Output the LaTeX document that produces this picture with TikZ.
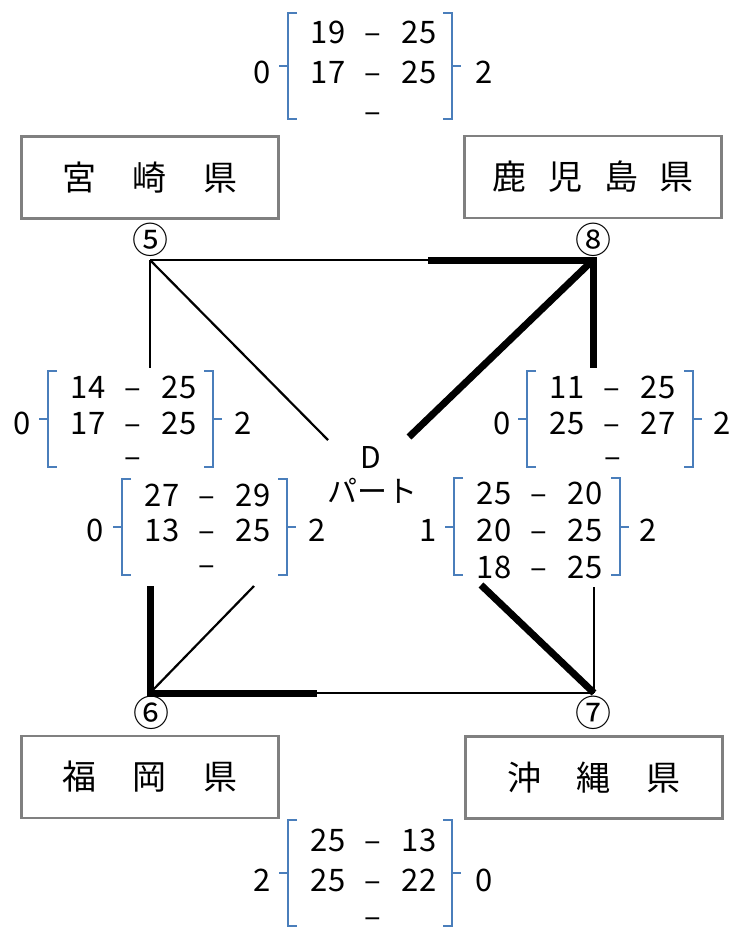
\documentclass[tikz,border=0pt]{standalone}
\usepackage{fontspec}
\setmainfont{Noto Sans CJK JP}
\definecolor{brkblue}{HTML}{4A7EBB}
\definecolor{boxgray}{HTML}{808080}
% bracket pair: #1 L, #2 R, #3 T, #4 B
\newcommand{\BrkPair}[4]{%
  \draw[bracket] ({#1+9},#3) -- (#1,#3) -- (#1,#4) -- ({#1+9},#4);
  \draw[bracket] (#1,{(#3+#4)/2}) -- ({#1-9},{(#3+#4)/2});
  \draw[bracket] ({#2-9},#3) -- (#2,#3) -- (#2,#4) -- ({#2-9},#4);
  \draw[bracket] (#2,{(#3+#4)/2}) -- ({#2+9},{(#3+#4)/2});
}
% score row: #1 name, #2 L, #3 y, #4 left, #5 right
\newcommand{\ScoreRow}[5]{%
  \node[num] (#1a) at ({#2+40},#3) {#4};
  \node[num] (#1d) at ({#2+85},#3) {–};
  \node[num] (#1b) at ({#2+131},#3) {#5};
}
% lone dash row: #1 name, #2 x, #3 y (centre of row)
\newcommand{\DashRow}[3]{%
  \node[num, text height=12pt, anchor=base] (#1) at (#2,{#3+9.5}) {–};
}
\begin{document}
\begin{tikzpicture}[x=1pt,y=-1pt,
  num/.style={inner sep=0pt, font=\fontsize{31}{31}\selectfont, text height=22.7pt, text depth=0pt},
  pref/.style={draw=boxgray, line width=2.5pt, inner sep=0pt, minimum width=257pt, minimum height=82pt, font=\fontsize{34}{34}\selectfont},
  circnum/.style={inner sep=0pt, font=\fontsize{36}{36}\selectfont},
  ctext/.style={inner sep=0pt, font=\fontsize{30}{30}\selectfont},
  bracket/.style={draw=brkblue, line width=2pt},
  thin/.style={line width=2.2pt},
  thick/.style={line width=7pt, line join=miter}]
\useasboundingbox (0,0) rectangle (750,929);

% prefecture boxes
\node[pref] (miyazaki) at (150,177.5) {宮\hspace{37pt}崎\hspace{37pt}県};
\node[pref] (kagoshima) at (593,177) {鹿\hspace{22pt}児\hspace{22pt}島\hspace{22pt}県};
\node[pref] (fukuoka) at (150,777) {福\hspace{37pt}岡\hspace{37pt}県};
\node[pref] (okinawa) at (594,777.5) {沖\hspace{36pt}縄\hspace{36pt}県};

% vertices
\coordinate (v5) at (150,260);
\coordinate (v8) at (593,260);
\coordinate (v6) at (150,693);
\coordinate (v7) at (594,693);
\coordinate (t58) at (428,260);
\coordinate (e5) at (150,368);
\coordinate (e8) at (593,368);
\coordinate (c5) at (328,440);
\coordinate (c8) at (409,437);
\coordinate (e6) at (150,586);
\coordinate (b67) at (317,693);
\coordinate (c6) at (254,586);
\coordinate (c7) at (481,585);
\coordinate (e7) at (594,587);

\node[circnum] (n5) at (150,240) {⑤};
\node[circnum] (n8) at (593,240) {⑧};
\node[circnum] (n6) at (151,713) {⑥};
\node[circnum] (n7) at (593,713) {⑦};

% connectors
\draw[thin] (v5) -- (t58);
\draw[thick] (t58) -- (v8) -- (e8);
\draw[thin] (v5) -- (e5);
\draw[thin] (v5) -- (c5);
\draw[thick] (v8) -- (c8);
\draw[thick] (e6) -- (v6) -- (b67);
\draw[thin] (b67) -- (v7);
\draw[thin] (v6) -- (c6);
\draw[thick] (v7) -- (c7);
\draw[thin] (v7) -- (e7);

% centre text
\node[ctext] (dlabel) at (371,457) {D};
\node[ctext] (part) at (372,491) {パート};

% top block (5-8)
\BrkPair{288}{452}{13}{119}
\ScoreRow{tA}{288}{32}{19}{25}
\ScoreRow{tB}{288}{72}{17}{25}
\DashRow{tCd}{373}{113}
\node[num] (tL) at (262,72) {0};
\node[num] (tR) at (484,72) {2};

% left-mid block (5-6)
\BrkPair{48}{213}{371}{467}
\ScoreRow{lA}{48}{387}{14}{25}
\ScoreRow{lB}{48}{423}{17}{25}
\DashRow{lCd}{133}{458}
\node[num] (lL) at (22,423) {0};
\node[num] (lR) at (243,423) {2};

% inner-left block (5-7)
\BrkPair{122}{287}{479}{575}
\ScoreRow{iA}{122}{495}{27}{29}
\ScoreRow{iB}{122}{530}{13}{25}
\DashRow{iCd}{207}{566}
\node[num] (iL) at (95,530) {0};
\node[num] (iR) at (317,530) {2};

% right-mid block (8-7)
\BrkPair{527}{693}{371}{467}
\ScoreRow{rA}{527}{387}{11}{25}
\ScoreRow{rB}{527}{423}{25}{27}
\DashRow{rCd}{613}{458}
\node[num] (rL) at (502,423) {0};
\node[num] (rR) at (722,423) {2};

% inner-right block (8-6)
\BrkPair{454}{620}{478}{575}
\ScoreRow{jA}{454}{493}{25}{20}
\ScoreRow{jB}{454}{530}{20}{25}
\ScoreRow{jC}{454}{567}{18}{25}
\node[num] (jL) at (428,530) {1};
\node[num] (jR) at (648,530) {2};

% bottom block (6-7)
\BrkPair{288}{452}{820}{926}
\ScoreRow{bA}{288}{840}{25}{13}
\ScoreRow{bB}{288}{880}{25}{22}
\DashRow{bCd}{373}{918}
\node[num] (bL) at (262,880) {2};
\node[num] (bR) at (484,880) {0};
\end{tikzpicture}
\end{document}
